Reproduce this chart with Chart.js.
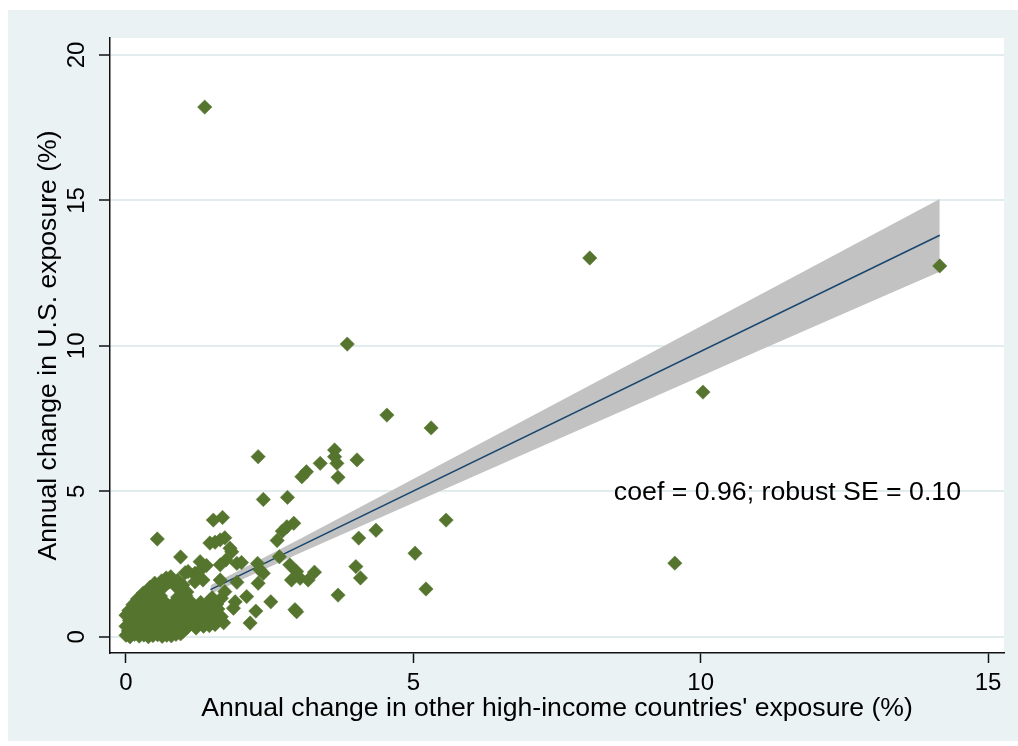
<!DOCTYPE html>
<html>
<head>
<meta charset="utf-8">
<script src="https://cdn.jsdelivr.net/npm/chart.js@4.4.1/dist/chart.umd.min.js"></script>
<style>
  html, body { margin: 0; padding: 0; background: #ffffff; }
  #wrap { width: 1018px; height: 746px; }
</style>
</head>
<body>
<div id="wrap"><canvas id="chart" width="1018" height="746"></canvas></div>
<script>
// Annual change in other high-income countries' exposure (%), one entry per observation
const otherExposure = [
  // scattered observations
  1.37, 8.07, 14.16, 3.85, 10.04, 4.54, 5.31, 2.30, 3.63, 3.63, 3.67, 3.69, 3.38, 4.02, 3.06, 3.14,
  2.39, 2.81, 1.52, 1.68, 5.57, 4.35, 4.05, 5.03, 5.22, 3.69, 4.00, 4.08, 9.55,
  2.94, 2.97, 2.52, 2.16, 2.26, 2.10, 2.30, 1.93, 2.67, 2.63, 2.72, 2.80, 2.92,
  2.85, 2.97, 3.03, 3.17, 3.28, 2.88, 2.29, 2.33, 2.39, 1.93, 2.01, 1.81, 1.84,
  1.46, 1.55, 1.64, 1.72, 1.74, 1.64, 1.72, 1.66, 1.90, 1.87, 1.66,
  0.545, 0.95, 1.08, 1.29, 1.40, 1.34, 1.20, 1.03, 1.23, 1.20, 1.34, 1.64,
  // dense group near the origin
  0.00, 0.07, 0.15, 0.23, 0.31, 0.39, 0.47, 0.55, 0.63, 0.71, 0.79, 0.87, 0.95,
  0.04, 0.19, 0.35, 0.51, 0.67, 0.83, 0.99, 1.06,
  0.00, 0.12, 0.26, 0.41, 0.55, 0.70, 0.85, 1.00, 1.14, 1.45,
  0.06, 0.18, 0.32, 0.46, 0.60, 0.74, 0.88, 1.02, 1.16, 1.30, 1.48, 1.57,
  0.00, 0.14, 0.28, 0.42, 0.56, 0.70, 0.84, 0.98, 1.12, 1.26, 1.39,
  0.05, 0.20, 0.34, 0.50, 0.64, 0.78, 0.90, 1.06, 1.20, 1.34, 1.52,
  0.12, 0.26, 0.40, 0.55, 0.70, 0.84, 1.00, 1.12, 1.30, 1.45, 1.58,
  0.20, 0.34, 0.48, 0.60, 0.90, 1.04, 1.50,
  0.30, 0.44, 0.55, 0.96, 1.06,
  0.42, 0.53, 0.66, 0.86, 0.99,
  0.50, 0.62, 0.75, 0.90,
  0.70, 0.78,
  1.22, 1.35, 1.38, 1.55, 1.62, 1.25, 1.45, 1.60, 1.70
];

// Annual change in U.S. exposure (%), same order as above
const usExposure = [
  18.21, 13.02, 12.75, 10.06, 8.41, 7.62, 7.18, 6.19, 6.42, 6.19, 5.96, 5.48, 5.96, 6.08, 5.50, 5.67,
  4.72, 4.79, 4.01, 4.10, 4.01, 3.66, 3.39, 2.87, 1.64, 1.43, 2.41, 2.02, 2.53,
  0.93, 0.86, 1.20, 0.47, 0.88, 1.38, 1.84, 1.87, 2.75, 3.31, 3.63, 3.78, 3.90,
  2.47, 2.24, 2.01, 1.95, 2.22, 1.95, 2.52, 2.30, 2.18, 2.52, 2.55, 3.04, 2.92,
  3.22, 3.25, 3.33, 3.40, 2.64, 1.95, 1.55, 1.32, 1.20, 0.98, 0.69,
  3.36, 2.74, 2.24, 2.58, 2.45, 2.38, 2.18, 2.20, 2.06, 1.89, 1.95, 2.47,
  0.05, 0.00, 0.08, 0.02, 0.06, 0.00, 0.04, 0.07, 0.01, 0.05, 0.03, 0.08, 0.10,
  0.20, 0.17, 0.22, 0.15, 0.19, 0.24, 0.18, 0.30,
  0.36, 0.32, 0.40, 0.33, 0.38, 0.31, 0.42, 0.37, 0.45, 0.38,
  0.56, 0.52, 0.60, 0.55, 0.50, 0.58, 0.62, 0.53, 0.60, 0.55, 0.58, 0.78,
  0.74, 0.78, 0.72, 0.80, 0.75, 0.70, 0.79, 0.72, 0.80, 0.74, 0.84,
  0.90, 0.98, 0.93, 1.00, 0.94, 1.02, 0.95, 1.00, 0.96, 1.04, 1.02,
  1.10, 1.16, 1.12, 1.20, 1.14, 1.18, 1.15, 1.22, 1.18, 1.24, 1.12,
  1.30, 1.38, 1.34, 1.40, 1.36, 1.42, 1.34,
  1.50, 1.56, 1.60, 1.58, 1.54,
  1.70, 1.76, 1.72, 1.74, 1.78,
  1.84, 1.92, 1.88, 1.94,
  2.02, 2.06,
  0.30, 0.36, 0.50, 0.42, 0.58, 0.88, 0.66, 0.95, 0.48
];

// Fitted line and its confidence band
const fitX = [1.47, 14.16];
const fitY = [1.62, 13.80];
const bandX = [1.47, 3, 5, 7, 9, 11, 13, 14.16];
const bandUpper = [1.77, 3.33, 5.42, 7.52, 9.62, 11.72, 13.83, 15.05];
const bandLower = [1.47, 2.85, 4.60, 6.34, 8.08, 9.82, 11.55, 12.55];

const xTicks = [0, 5, 10, 15];
const yTicks = [0, 5, 10, 15, 20];

const xTitle = "Annual change in other high-income countries' exposure (%)";
const yTitle = "Annual change in U.S. exposure (%)";
const noteText = "coef = 0.96; robust SE = 0.10";
const notePos = { x: 11.51, y: 4.95 };

const FONT = '"Liberation Sans", Arial, sans-serif';
const TEXT = '#000000';
const FRAME = '#eaf2f3';
const GRID = '#e2ecef';

const pts = (xs, ys) => xs.map((x, i) => ({ x: x, y: ys[i] }));

// Page background, outer frame and white plot region
const backdrop = {
  id: 'backdrop',
  beforeDraw(chart) {
    const { ctx, chartArea: a } = chart;
    ctx.save();
    ctx.fillStyle = '#ffffff';
    ctx.fillRect(0, 0, chart.width, chart.height);
    ctx.fillStyle = FRAME;
    ctx.fillRect(8, 10, chart.width - 8, chart.height - 15);
    ctx.fillStyle = '#ffffff';
    ctx.fillRect(a.left, a.top, a.right - a.left, a.bottom - a.top);
    ctx.restore();
  }
};

// Vertical y tick labels and the coefficient note
const labels = {
  id: 'labels',
  afterDraw(chart) {
    const { ctx } = chart;
    const ys = chart.scales.y, xs = chart.scales.x;
    ctx.save();
    ctx.fillStyle = TEXT;
    ctx.font = '24px ' + FONT;
    ctx.textAlign = 'center';
    ctx.textBaseline = 'middle';
    yTicks.forEach(v => {
      ctx.save();
      ctx.translate(77, ys.getPixelForValue(v));
      ctx.rotate(-Math.PI / 2);
      ctx.fillText(String(v), 0, 0);
      ctx.restore();
    });
    ctx.font = '26.7px ' + FONT;
    ctx.fillText(noteText, xs.getPixelForValue(notePos.x), ys.getPixelForValue(notePos.y));
    ctx.restore();
  }
};

new Chart(document.getElementById('chart'), {
  type: 'scatter',
  data: {
    datasets: [
      {
        label: 'observations',
        data: pts(otherExposure, usExposure),
        pointStyle: 'rectRot',
        pointRadius: 7.2,
        pointBackgroundColor: '#55752f',
        pointBorderColor: '#55752f',
        pointBorderWidth: 0.5,
        order: 0
      },
      {
        label: 'fit',
        data: pts(fitX, fitY),
        showLine: true,
        borderColor: '#1a476f',
        borderWidth: 1.6,
        pointRadius: 0,
        fill: false,
        order: 1
      },
      {
        label: 'upper',
        data: pts(bandX, bandUpper),
        showLine: true,
        borderWidth: 0,
        borderColor: 'rgba(0,0,0,0)',
        backgroundColor: '#c2c2c2',
        pointRadius: 0,
        fill: '+1',
        order: 2
      },
      {
        label: 'lower',
        data: pts(bandX, bandLower),
        showLine: true,
        borderWidth: 0,
        borderColor: 'rgba(0,0,0,0)',
        pointRadius: 0,
        fill: false,
        order: 3
      }
    ]
  },
  options: {
    responsive: false,
    animation: false,
    devicePixelRatio: 1,
    layout: { padding: { top: 38, right: 14, left: 0, bottom: 0 } },
    plugins: {
      legend: { display: false },
      tooltip: { enabled: false }
    },
    scales: {
      x: {
        type: 'linear',
        min: -0.278,
        max: 15.278,
        afterBuildTicks: s => { s.ticks = xTicks.map(v => ({ value: v })); },
        afterFit: s => { s.height = 93; },
        grid: {
          drawOnChartArea: false,
          drawTicks: true,
          tickLength: 10,
          tickColor: '#111111',
          tickWidth: 1.5
        },
        border: { display: true, color: '#111111', width: 1.5 },
        ticks: {
          autoSkip: false,
          maxRotation: 0,
          minRotation: 0,
          padding: 6,
          color: TEXT,
          font: { family: FONT, size: 24 },
          callback: v => String(v)
        },
        title: {
          display: true,
          text: xTitle,
          color: TEXT,
          font: { family: FONT, size: 26.6 },
          padding: { top: 0, bottom: 21 }
        }
      },
      y: {
        type: 'linear',
        min: -0.56,
        max: 20.585,
        afterBuildTicks: s => { s.ticks = yTicks.map(v => ({ value: v })); },
        afterFit: s => { s.width = 110; },
        grid: {
          color: GRID,
          lineWidth: 2,
          drawTicks: true,
          tickLength: 11,
          tickColor: '#111111',
          tickWidth: 1.5
        },
        border: { display: true, color: '#111111', width: 1.5 },
        ticks: { display: false },
        title: {
          display: true,
          text: yTitle,
          color: TEXT,
          font: { family: FONT, size: 26.6 },
          padding: { top: 33, bottom: 0 }
        }
      }
    }
  },
  plugins: [backdrop, labels]
});
</script>
</body>
</html>
